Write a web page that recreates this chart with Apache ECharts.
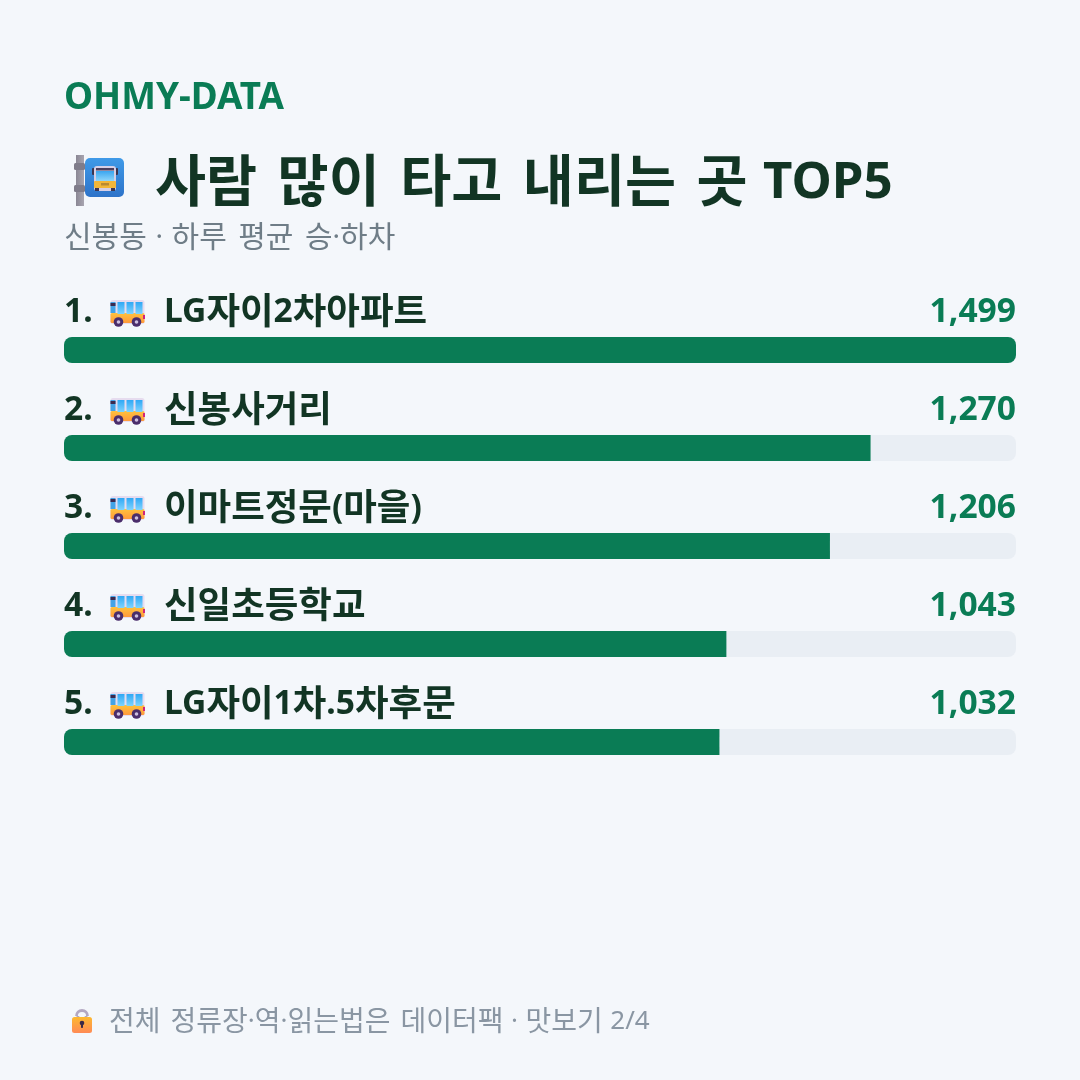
<!DOCTYPE html>
<html lang="ko">
<head>
<meta charset="utf-8">
<title>사람 많이 타고 내리는 곳 TOP5</title>
<style>
  html, body { margin: 0; padding: 0; background: #f4f7fb; }
  #chart { width: 1080px; height: 1080px; }
</style>
<script src="https://cdn.jsdelivr.net/npm/echarts@6/dist/echarts.min.js"></script>
</head>
<body>
<div id="chart"></div>
<script>
// Busiest stops in 신봉동 by average daily boardings and alightings
const brand = 'OHMY-DATA';
const heading = '사람 많이 타고 내리는 곳 TOP5';
const subheading = '신봉동 · 하루 평균 승·하차';
const footnote = '전체 정류장·역·읽는법은 데이터팩 · 맛보기 2/4';
const stops = ['LG자이2차아파트', '신봉사거리', '이마트정문(마을)', '신일초등학교', 'LG자이1차.5차후문'];
const riders = [1499, 1270, 1206, 1043, 1032];

const LATIN_FONT = '"Noto Sans", sans-serif';
const HANGUL_FONT = '"Noto Sans CJK KR", sans-serif';
const GREEN = '#0a7c55';
const INK = '#123524';
const axisMax = Math.max(...riders);

const vgrad = (a, b) => new echarts.graphic.LinearGradient(0, 0, 0, 1, [
  { offset: 0, color: a }, { offset: 1, color: b }
]);
const hgrad = (a, b) => new echarts.graphic.LinearGradient(0, 0, 1, 0, [
  { offset: 0, color: a }, { offset: 1, color: b }
]);
const box = (x, y, width, height, fill, r) => ({
  type: 'rect', silent: true,
  shape: { x, y, width, height, r: r || 0 }, style: { fill }
});
const disc = (cx, cy, r, fill) => ({
  type: 'circle', silent: true, shape: { cx, cy, r }, style: { fill }
});

// Side-view bus, 35 wide and 28 high from its own origin
function busIcon(x, y) {
  return {
    type: 'group', x, y, silent: true,
    children: [
      box(0, 0, 34, 24, '#e6dcef', 2.5),
      box(0, 13, 34, 10, vgrad('#ffc23d', '#ff9a3c'), 1.5),
      box(0, 2, 5, 11, '#43a3e6'),
      box(0, 3, 5, 3, '#3b2a4f'),
      box(7, 2, 7, 12, vgrad('#2fa8f5', '#7fd4ff')),
      box(16, 2, 7, 12, vgrad('#2fa8f5', '#7fd4ff')),
      box(25, 2, 7, 12, vgrad('#2fa8f5', '#7fd4ff')),
      box(32.5, 15, 2, 4, '#d0257a'),
      disc(8, 22, 4.8, '#4a2d6b'),
      disc(8, 22, 1.8, '#cdbfe0'),
      disc(26, 22, 4.8, '#4a2d6b'),
      disc(26, 22, 1.8, '#cdbfe0')
    ]
  };
}

// Bus-stop sign on a pole, placed beside the heading
function stopIcon(x, y) {
  return {
    type: 'group', x, y, silent: true,
    children: [
      box(4, 0, 8, 51, hgrad('#8a8794', '#a8a5b0')),
      box(2, 8, 11, 7, '#7f7c8a', 1.5),
      box(2, 30, 11, 7, '#7f7c8a', 1.5),
      box(13, 3, 39, 39, vgrad('#3f9ae8', '#2d73c9'), 5),
      box(20, 13, 2.5, 7, '#3d3550', 1),
      box(43.5, 13, 2.5, 7, '#3d3550', 1),
      box(22, 11, 22, 25, '#d6cfe6', 3),
      box(24, 13, 18, 2.5, '#4a3f5e'),
      box(24, 16, 18, 10, vgrad('#3aa5f0', '#8fd6fa')),
      box(22, 26, 22, 7, '#f2b638', 1),
      box(29, 28, 8, 2.5, '#b98a32'),
      box(23, 33, 4, 3, '#3d3550'),
      box(39, 33, 4, 3, '#3d3550')
    ]
  };
}

// Padlock in front of the footnote
function lockIcon(x, y) {
  return {
    type: 'group', x, y, silent: true,
    children: [
      {
        type: 'arc', silent: true,
        shape: { cx: 10, cy: 8, r: 5.5, startAngle: Math.PI, endAngle: 0, clockwise: true },
        style: { fill: 'none', stroke: '#b3a8c2', lineWidth: 2.8 }
      },
      box(4.5, 8, 2.8, 2, '#b3a8c2'),
      box(12.7, 8, 2.8, 2, '#b3a8c2'),
      box(0, 9, 20, 16, vgrad('#fdb92f', '#ff8a55'), 2.5),
      disc(10, 15, 2.3, '#3a2a48'),
      box(9, 15, 2, 5, '#3a2a48', 0.8)
    ]
  };
}

// Hangul and Latin come from different faces, so mixed strings are split into styled runs.
// Word gaps next to a Latin run or a middle dot are set a little tighter.
function mixedText(text, hangulSize, latinSize, spaceWidth, fill, weight, x, y, align) {
  const lineHeight = hangulSize * 1.3;
  const rich = {
    h: { fontFamily: HANGUL_FONT, fontSize: hangulSize, fontWeight: weight, fill, lineHeight },
    l: {
      fontFamily: LATIN_FONT, fontSize: latinSize, fontWeight: weight, fill, lineHeight,
      padding: [latinSize * 0.14, 0, 0, 0]
    },
    s: { fontFamily: LATIN_FONT, fontSize: latinSize, width: spaceWidth, lineHeight },
    t: { fontFamily: LATIN_FONT, fontSize: latinSize, width: spaceWidth * 0.75, lineHeight }
  };
  const chars = Array.from(text);
  const isHangul = ch => /[\uac00-\ud7a3]/.test(ch);
  const classOf = i => {
    if (chars[i] !== ' ') return isHangul(chars[i]) ? 'h' : 'l';
    return isHangul(chars[i - 1] || '') && isHangul(chars[i + 1] || '') ? 's' : 't';
  };
  let out = '', run = '', cls = null;
  chars.forEach((ch, i) => {
    const c = classOf(i);
    if (c !== cls || ch === ' ') {
      if (run) out += '{' + cls + '|' + run + '}';
      run = '';
      cls = c;
    }
    run += ch;
  });
  if (run) out += '{' + cls + '|' + run + '}';
  return {
    type: 'text', silent: true, x, y,
    style: { text: out, rich, align: align || 'left', verticalAlign: 'middle' }
  };
}

// Heading row above each bar: rank, bus, stop name, and the value at the right edge
function renderRowHeader(params, api) {
  const idx = api.value(1);
  const value = api.value(0);
  const left = api.coord([0, idx]);
  const right = api.coord([axisMax, idx]);
  const midY = left[1] - 39.5;
  const label = (text, x, fill, align) =>
    mixedText(text, 36.5, 33.6, 12, fill, 'bold', x, midY, align);
  return {
    type: 'group',
    children: [
      label((idx + 1) + '.', left[0], INK, 'left'),
      busIcon(left[0] + 46.5, left[1] - 50),
      label(stops[idx], left[0] + 100, INK, 'left'),
      label(value.toLocaleString('en-US'), right[0], GREEN, 'right')
    ]
  };
}

const chart = echarts.init(document.getElementById('chart'), null, { renderer: 'canvas' });
chart.setOption({
  animation: false,
  backgroundColor: '#f4f7fb',
  grid: { left: 64, right: 64, top: 301, height: 490, containLabel: false },
  xAxis: { type: 'value', min: 0, max: axisMax, show: false },
  yAxis: { type: 'category', data: stops, inverse: true, show: false },
  graphic: [
    mixedText(brand, 36, 36.8, 0, GREEN, 'bold', 64, 96),
    stopIcon(72, 155),
    mixedText(heading, 55.5, 51, 20.5, INK, 'bold', 155, 180),
    mixedText(subheading, 30, 28, 11.5, '#6f7d87', 'normal', 64, 236),
    lockIcon(72, 1008),
    mixedText(footnote, 28, 26, 10, '#8a96a3', 'normal', 109, 1020)
  ],
  series: [
    {
      type: 'bar',
      name: '하루 평균 승·하차',
      barWidth: 26,
      silent: true,
      showBackground: true,
      backgroundStyle: { color: '#e9eef4', borderRadius: 8 },
      data: riders.map(v => ({
        value: v,
        itemStyle: {
          color: GREEN,
          borderRadius: v === axisMax ? 8 : [8, 0, 0, 8]
        }
      }))
    },
    {
      type: 'custom',
      silent: true,
      clip: false,
      renderItem: renderRowHeader,
      encode: { x: 0, y: 1 },
      data: riders.map((v, i) => [v, i])
    }
  ]
});
</script>
</body>
</html>
